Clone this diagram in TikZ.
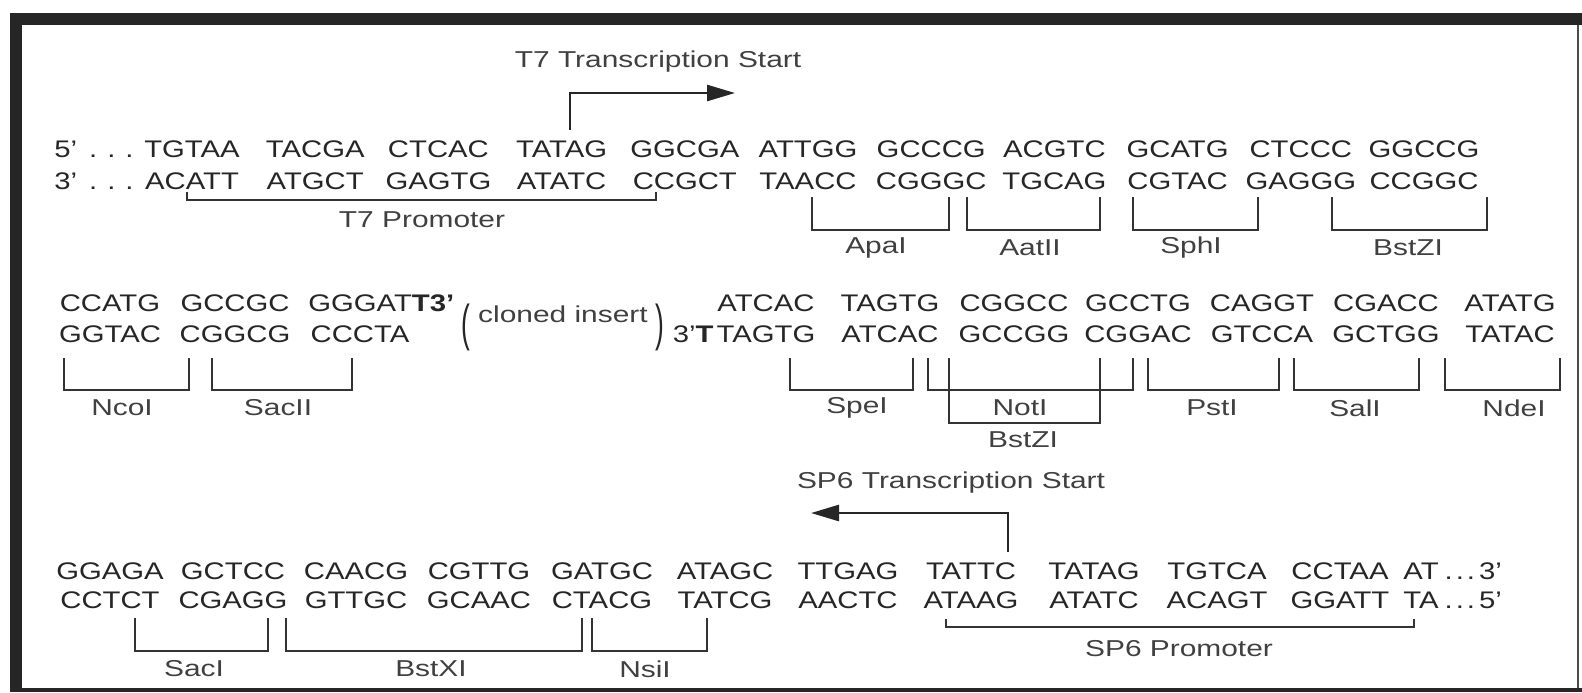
\documentclass[tikz,border=0pt]{standalone}
\usepackage{fontspec}
\setmainfont{Liberation Sans}[FakeStretch=1.22]
\newfontfamily\labelfont{Liberation Sans}[FakeStretch=1.3]
\usetikzlibrary{arrows.meta}
\newcommand{\seqdots}{\hspace{6pt}.\hspace{5pt}.\hspace{5pt}.}
\newcommand{\taildots}{\hspace{3pt}.\hspace{1.5pt}.\hspace{1.5pt}.\hspace{2pt}}

\begin{document}
\begin{tikzpicture}[
    x=0.5pt, y=-0.5pt,
    seq/.style={anchor=base, inner sep=0pt, text=black!85, font=\fontsize{12}{14}\selectfont},
    seqend/.style={seq, anchor=base west},
    enzyme/.style={inner sep=0pt, text=black!75, font=\labelfont\fontsize{11.5}{13}\selectfont},
    sitebracket/.style={draw=black!80, line width=1pt},
    startarrow/.style={-{Triangle[length=14pt, width=8pt]}, draw=black!85, line width=1.3pt},
    framefill/.style={fill=black!85}
]
\useasboundingbox (0,0) rectangle (1582,692);
\fill[framefill] (10,13) rectangle (1582,25);
\fill[framefill] (10,13) rectangle (22,692);
\fill[framefill] (10,688) rectangle (1582,692);
\draw[black!70, line width=1pt] (1578,25) -- (1578,688);

% T7 side
\node[enzyme] (t7start) at (658,62) {T7 Transcription Start};
\coordinate (t7foot) at (570,130);
\coordinate (t7tip) at (735,93);
\draw[startarrow] (t7foot) |- (t7tip);
\node[seqend] (toppre) at (54,157) {5'\seqdots};
\node[seqend] (botpre) at (54,189) {3'\seqdots};
\foreach \g [count=\i from 0] in {TGTAA,TACGA,CTCAC,TATAG,GGCGA,ATTGG,GCCCG,ACGTC,GCATG,CTCCC,GGCCG}
  \node[seq] (topa\i) at (192+123.2*\i,157) {\g};
\foreach \g [count=\i from 0] in {ACATT,ATGCT,GAGTG,ATATC,CCGCT,TAACC,CGGGC,TGCAG,CGTAC,GAGGG,CCGGC}
  \node[seq] (bota\i) at (192+123.2*\i,189) {\g};
\draw[sitebracket] (187,192) |- (656,200) -- (656,192);
\node[enzyme] (t7prom) at (422,220) {T7 Promoter};
\draw[sitebracket] (812,197) |- (949,230) -- (949,197);
\node[enzyme] (apai) at (876,248) {ApaI};
\draw[sitebracket] (967,197) |- (1100,230) -- (1100,197);
\node[enzyme] (aatii) at (1030,248) {AatII};
\draw[sitebracket] (1133,197) |- (1258,230) -- (1258,197);
\node[enzyme] (sphi) at (1191,248) {SphI};
\draw[sitebracket] (1332,197) |- (1487,230) -- (1487,197);
\node[enzyme] (bstzia) at (1408,248) {BstZI};

% cloning site
\foreach \g [count=\i from 0] in {CCATG,GCCGC}
  \node[seq] (topb\i) at (110+125*\i,311) {\g};
\node[seqend] (topb2) at (308,311) {GGGAT\textbf{T3'}};
\foreach \g [count=\i from 0] in {GGTAC,CGGCG,CCCTA}
  \node[seq] (botb\i) at (110+125*\i,342) {\g};
\node[seq, anchor=center] (lpar) at (466,327) {\scalebox{0.9}[2.1]{(}};
\node[enzyme] (insert) at (563,314) {cloned insert};
\node[seq, anchor=center] (rpar) at (660,327) {\scalebox{0.9}[2.1]{)}};
\node[seq, anchor=base east] (botc) at (714,342) {3'\textbf{T}};
\foreach \g [count=\i from 0] in {ATCAC,TAGTG,CGGCC,GCCTG,CAGGT,CGACC,ATATG}
  \node[seq] (topc\i) at (766+124*\i,311) {\g};
\foreach \g [count=\i from 0] in {TAGTG,ATCAC,GCCGG,CGGAC,GTCCA,GCTGG,TATAC}
  \node[seq] (botc\i) at (766+124*\i,342) {\g};
\draw[sitebracket] (64,358) |- (189,390) -- (189,358);
\node[enzyme] (ncoi) at (122,408) {NcoI};
\draw[sitebracket] (212,358) |- (352,390) -- (352,358);
\node[enzyme] (sacii) at (278,408) {SacII};
\draw[sitebracket] (790,358) |- (913,390) -- (913,358);
\node[enzyme] (spei) at (857,408) {SpeI};
\draw[sitebracket] (928,358) |- (1133,390) -- (1133,358);
\node[enzyme] (noti) at (1020,408) {NotI};
\draw[sitebracket] (949,358) |- (1100,423) -- (1100,358);
\node[enzyme] (bstzib) at (1023,440) {BstZI};
\draw[sitebracket] (1148,358) |- (1279,390) -- (1279,358);
\node[enzyme] (psti) at (1212,408) {PstI};
\draw[sitebracket] (1294,358) |- (1419,390) -- (1419,358);
\node[enzyme] (sali) at (1355,408) {SalI};
\draw[sitebracket] (1445,358) |- (1560,390) -- (1560,358);
\node[enzyme] (ndei) at (1514,408) {NdeI};

% SP6 side
\node[enzyme] (sp6start) at (951,483) {SP6 Transcription Start};
\coordinate (sp6foot) at (1008,552);
\coordinate (sp6tip) at (811,513);
\draw[startarrow] (sp6foot) |- (sp6tip);
\foreach \g [count=\i from 0] in {GGAGA,GCTCC,CAACG,CGTTG,GATGC,ATAGC,TTGAG,TATTC,TATAG,TGTCA,CCTAA}
  \node[seq] (topd\i) at (110+123*\i,579) {\g};
\node[seqend] (topd11) at (1403,579) {AT\taildots3'};
\foreach \g [count=\i from 0] in {CCTCT,CGAGG,GTTGC,GCAAC,CTACG,TATCG,AACTC,ATAAG,ATATC,ACAGT,GGATT}
  \node[seq] (botd\i) at (110+123*\i,608) {\g};
\node[seqend] (botd11) at (1403,608) {TA\taildots5'};
\draw[sitebracket] (135,618) |- (268,651) -- (268,618);
\node[enzyme] (saci) at (194,669) {SacI};
\draw[sitebracket] (286,618) |- (582,651) -- (582,618);
\node[enzyme] (bstxi) at (431,669) {BstXI};
\draw[sitebracket] (592,618) |- (707,651) -- (707,618);
\node[enzyme] (nsii) at (645,669) {NsiI};
\draw[sitebracket] (946,619) |- (1414,627) -- (1414,619);
\node[enzyme] (sp6prom) at (1179,649) {SP6 Promoter};
\end{tikzpicture}
\end{document}
